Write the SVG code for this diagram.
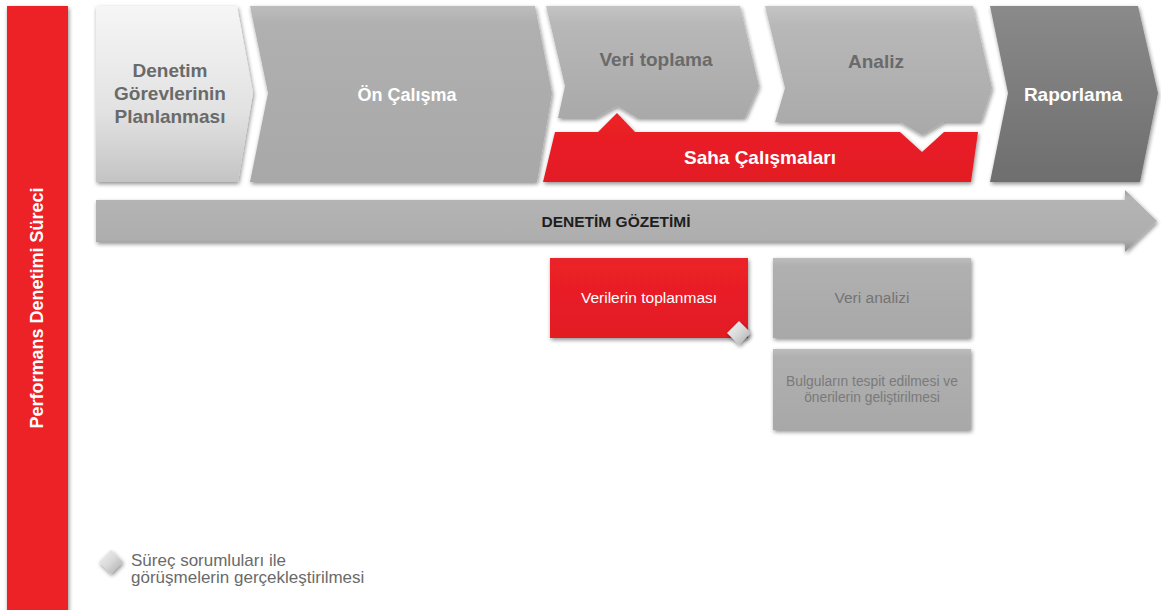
<svg xmlns="http://www.w3.org/2000/svg" width="1161" height="610" viewBox="0 0 1161 610">
  <defs>
    <style>
      .t { font-family: "Liberation Sans", Arial, sans-serif; }
      .hd { font-size: 19px; font-weight: bold; text-anchor: middle; }
      .hd.narrow { font-size: 18px; }
      .dark { fill: #6a6a6a; }
      .white { fill: #ffffff; }
      .box { font-size: 15.5px; text-anchor: middle; }
      .sm { font-size: 13.8px; text-anchor: middle; fill: #7a7a7a; }
    </style>
    <filter id="sh" x="-10%" y="-10%" width="125%" height="130%">
      <feGaussianBlur in="SourceAlpha" stdDeviation="2"/>
      <feOffset dx="1" dy="2" result="b"/>
      <feComponentTransfer><feFuncA type="linear" slope="0.45"/></feComponentTransfer>
      <feMerge><feMergeNode/><feMergeNode in="SourceGraphic"/></feMerge>
    </filter>
    <linearGradient id="gPlan" x1="0" y1="0" x2="0" y2="1">
      <stop offset="0" stop-color="#f6f6f6"/>
      <stop offset="0.6" stop-color="#e2e2e2"/>
      <stop offset="1" stop-color="#c4c4c4"/>
    </linearGradient>
    <linearGradient id="gGray" x1="0" y1="0" x2="0" y2="1">
      <stop offset="0" stop-color="#bdbdbd"/>
      <stop offset="0.1" stop-color="#b0b0b0"/>
      <stop offset="1" stop-color="#a8a8a8"/>
    </linearGradient>
    <linearGradient id="gLight" x1="0" y1="0" x2="0" y2="1">
      <stop offset="0" stop-color="#c4c4c4"/>
      <stop offset="0.15" stop-color="#b8b8b8"/>
      <stop offset="1" stop-color="#a9a9a9"/>
    </linearGradient>
    <linearGradient id="gDark" x1="0" y1="0" x2="0" y2="1">
      <stop offset="0" stop-color="#8a8a8a"/>
      <stop offset="1" stop-color="#6e6e6e"/>
    </linearGradient>
    <linearGradient id="gRed" x1="0" y1="0" x2="0" y2="1">
      <stop offset="0" stop-color="#e8262c"/>
      <stop offset="0.1" stop-color="#ec2027"/>
      <stop offset="1" stop-color="#e21d24"/>
    </linearGradient>
    <linearGradient id="gBar" x1="0" y1="0" x2="0" y2="1">
      <stop offset="0" stop-color="#9c9c9c"/>
      <stop offset="0.12" stop-color="#b4b4b4"/>
      <stop offset="0.8" stop-color="#aeaeae"/>
      <stop offset="1" stop-color="#8e8e8e"/>
    </linearGradient>
    <linearGradient id="gDia" x1="0" y1="0" x2="1" y2="1">
      <stop offset="0" stop-color="#f4f4f4"/>
      <stop offset="0.5" stop-color="#d8d8d8"/>
      <stop offset="1" stop-color="#a8a8a8"/>
    </linearGradient>
  </defs>

  <rect width="1161" height="610" fill="#ffffff"/>

  <!-- vertical side label -->
  <g id="side">
    <rect x="7" y="6" width="61" height="606" fill="#ec2027" filter="url(#sh)"/>
    <text class="t white" font-size="18" font-weight="bold" text-anchor="middle" transform="translate(43,308) rotate(-90)">Performans Denetimi Süreci</text>
  </g>

  <!-- process chevrons -->
  <g id="planlama">
    <path d="M96,6 L237,6 L253,93 L238,182 L96,182 Z" fill="url(#gPlan)" filter="url(#sh)"/>
    <text class="t hd dark" x="170" y="77">Denetim</text>
    <text class="t hd dark" x="170" y="100">Görevlerinin</text>
    <text class="t hd dark" x="170" y="123">Planlanması</text>
  </g>

  <g id="on-calisma">
    <path d="M250,6 L535,6 L552,93 L537,182 L250,182 L268,93 Z" fill="url(#gGray)" filter="url(#sh)"/>
    <text class="t hd narrow white" x="407" y="101">Ön Çalışma</text>
  </g>

  <g id="veri-toplama">
    <path d="M546,6 L740,6 L759,86 L745,118 L637,118 L617,106 L596,118 L558,118 L565,86 Z" fill="url(#gLight)" filter="url(#sh)"/>
    <text class="t hd dark" x="656" y="66">Veri toplama</text>
  </g>

  <g id="analiz">
    <path d="M765,6 L973,6 L992,88 L981,122 L944,122 L922,135 L900,122 L775,122 L785,88 Z" fill="url(#gLight)" filter="url(#sh)"/>
    <text class="t hd dark" x="876" y="68">Analiz</text>
  </g>

  <g id="raporlama">
    <path d="M990,6 L1138,6 L1158,93 L1140,182 L990,182 L1008,93 Z" fill="url(#gDark)" filter="url(#sh)"/>
    <text class="t hd white" x="1073" y="101">Raporlama</text>
  </g>

  <g id="saha">
    <path d="M555,132 L598,132 L617,113 L635,132 L900,132 L922,152 L944,132 L978,132 L971,182 L543,182 Z" fill="url(#gRed)" filter="url(#sh)"/>
    <text class="t hd white" x="760" y="164">Saha Çalışmaları</text>
  </g>

  <!-- supervision arrow -->
  <g id="gozetim">
    <path d="M96,200 L1125,200 L1125,190 L1157,221 L1125,252 L1125,242 L96,242 Z" fill="url(#gBar)" filter="url(#sh)"/>
    <text class="t" x="616" y="227" font-size="15.5" font-weight="bold" text-anchor="middle" fill="#1e1e1e">DENETİM GÖZETİMİ</text>
  </g>

  <!-- activity boxes -->
  <g id="verilerin-toplanmasi">
    <rect x="550" y="258" width="198" height="80" fill="url(#gRed)" filter="url(#sh)"/>
    <text class="t box white" x="649" y="303">Verilerin toplanması</text>
  </g>

  <g id="veri-analizi">
    <rect x="773" y="258" width="198" height="80" fill="url(#gGray)" filter="url(#sh)"/>
    <text class="t box" x="872" y="303" fill="#747474">Veri analizi</text>
  </g>

  <g id="bulgular">
    <rect x="773" y="349" width="198" height="81" fill="url(#gGray)" filter="url(#sh)"/>
    <text class="t sm" x="872" y="386">Bulguların tespit edilmesi ve</text>
    <text class="t sm" x="872" y="402">önerilerin geliştirilmesi</text>
  </g>

  <!-- interview marker on the data-collection box -->
  <g id="marker">
    <path d="M739,321 L751,333 L739,345 L727,333 Z" fill="url(#gDia)" filter="url(#sh)"/>
  </g>

  <!-- legend -->
  <g id="legend">
    <path d="M111,550 L123,562 L111,574 L99,562 Z" fill="url(#gDia)" filter="url(#sh)"/>
    <text class="t" x="131" y="566" font-size="17" fill="#6a6a6a">Süreç sorumluları ile</text>
    <text class="t" x="131" y="583" font-size="17" fill="#6a6a6a">görüşmelerin gerçekleştirilmesi</text>
  </g>
</svg>
